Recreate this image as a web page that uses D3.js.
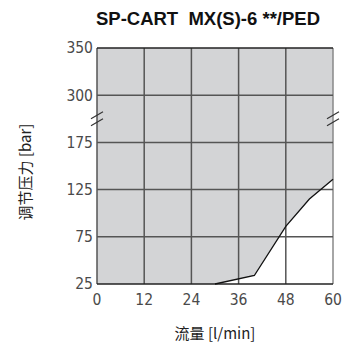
<!DOCTYPE html>
<html>
<head>
<meta charset="utf-8">
<script src="https://cdn.jsdelivr.net/npm/d3@7"></script>
<style>
  html, body { margin: 0; padding: 0; background: #fff; }
  svg { display: block; }
</style>
</head>
<body>
<div id="chart"></div>
<script>
// Chart content
const title = "SP-CART  MX(S)-6 **/PED";
const xTitle = "流量 [l/min]";
const yTitle = "调节压力 [bar]";

// Axis ticks
const flowTicks = [0, 12, 24, 36, 48, 60];
const pressureTicks = [25, 75, 125, 175, 300, 350];

// Boundary of the operating range (flow l/min -> pressure bar)
const curveFlow = [30, 40, 48, 54, 60];
const curvePressure = [25, 34, 86, 115, 136];

const W = 342, H = 352;
const margin = { top: 48, left: 97, right: 9, bottom: 68 };
const w = W - margin.left - margin.right;
const h = H - margin.top - margin.bottom;

const svg = d3.select("#chart").append("svg")
  .attr("width", W).attr("height", H);

const x = d3.scaleLinear().domain([0, 60]).range([0, w]);
// broken pressure axis: 25..175 linear, then a break up to 300, then 300..350
const y = d3.scaleLinear()
  .domain([25, 175, 300, 350])
  .range([h, h * 2 / 5, h / 5, 0]);

const g = svg.append("g").attr("transform", `translate(${margin.left},${margin.top})`);

// shaded operating area
const area = [[0, 350], [0, 25]]
  .concat(curveFlow.map((f, i) => [f, curvePressure[i]]))
  .concat([[60, 350]]);
g.append("path")
  .attr("d", d3.line().x(d => x(d[0])).y(d => y(d[1]))(area) + "Z")
  .attr("fill", "#d3d4d6");

// grid
const gridColor = "#555";
g.append("g").selectAll("line").data(flowTicks).join("line")
  .attr("x1", d => x(d)).attr("x2", d => x(d))
  .attr("y1", 0).attr("y2", h)
  .attr("stroke", (d, i) => i === flowTicks.length - 1 ? "#888" : gridColor)
  .attr("stroke-width", 1.5);
g.append("g").selectAll("line").data(pressureTicks).join("line")
  .attr("x1", 0).attr("x2", w)
  .attr("y1", d => y(d)).attr("y2", d => y(d))
  .attr("stroke", (d, i) => (i === 0 || i === pressureTicks.length - 1) ? "#222" : gridColor)
  .attr("stroke-width", 1.5);

// boundary curve
g.append("path")
  .attr("d", d3.line().x((d, i) => x(d)).y((d, i) => y(curvePressure[i]))(curveFlow))
  .attr("fill", "none")
  .attr("stroke", "#111")
  .attr("stroke-width", 1.3);

// axis break marks
const breakY = (y(175) + y(300)) / 2;
[0, w].forEach(cx => {
  [-3.5, 3.5].forEach(off => {
    g.append("line")
      .attr("x1", cx - 6).attr("y1", breakY + off + 3.5)
      .attr("x2", cx + 6).attr("y2", breakY + off - 3.5)
      .attr("stroke", "#333").attr("stroke-width", 1.2);
  });
});

// tick labels
const tickFont = "'Liberation Sans Narrow', 'DejaVu Sans Condensed', sans-serif";
g.append("g").selectAll("text").data(pressureTicks).join("text")
  .attr("x", -4).attr("y", d => y(d))
  .attr("dy", "0.35em")
  .attr("text-anchor", "end")
  .attr("font-family", tickFont)
  .attr("font-size", 15.5)
  .attr("fill", "#4a4a4a")
  .text(d => d);
g.append("g").selectAll("text").data(flowTicks).join("text")
  .attr("x", d => x(d)).attr("y", h + 21)
  .attr("text-anchor", "middle")
  .attr("font-family", tickFont)
  .attr("font-size", 15.5)
  .attr("fill", "#4a4a4a")
  .text(d => d);

// title
svg.append("text")
  .attr("x", 208).attr("y", 25)
  .attr("text-anchor", "middle")
  .attr("font-family", "'Liberation Sans', Arial, sans-serif")
  .attr("font-weight", "bold")
  .attr("font-size", 18.5)
  .attr("fill", "#111")
  .style("white-space", "pre")
  .text(title);

// axis titles
svg.append("text")
  .attr("x", 215).attr("y", 339)
  .attr("text-anchor", "middle")
  .attr("font-family", "'Noto Sans CJK SC', sans-serif")
  .attr("font-size", 15)
  .attr("fill", "#222")
  .text(xTitle);
svg.append("text")
  .attr("transform", "translate(31,172) rotate(-90)")
  .attr("text-anchor", "middle")
  .attr("font-family", "'Noto Sans CJK SC', sans-serif")
  .attr("font-size", 15)
  .attr("fill", "#222")
  .text(yTitle);
</script>
</body>
</html>
